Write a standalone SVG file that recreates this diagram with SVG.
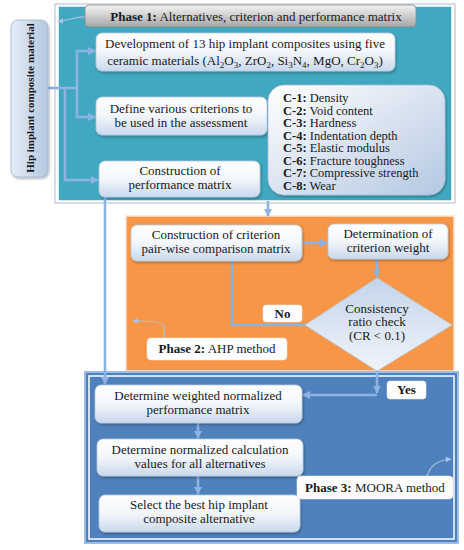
<svg xmlns="http://www.w3.org/2000/svg" width="464" height="550" viewBox="0 0 464 550" font-family="'Liberation Serif', 'DejaVu Serif', 'Times New Roman', serif">
<defs>
<linearGradient id="box" x1="0" y1="0" x2="0" y2="1">
<stop offset="0" stop-color="#ffffff"/><stop offset="0.5" stop-color="#f2f6fb"/><stop offset="1" stop-color="#c9d8ec"/>
</linearGradient>
<linearGradient id="crit" x1="0" y1="0" x2="1" y2="1">
<stop offset="0" stop-color="#ffffff"/><stop offset="1" stop-color="#b4c8e2"/>
</linearGradient>
<linearGradient id="side" x1="0" y1="0" x2="1" y2="0">
<stop offset="0" stop-color="#e6edf6"/><stop offset="1" stop-color="#b3c7e0"/>
</linearGradient>
<linearGradient id="title" x1="0" y1="0" x2="0" y2="1">
<stop offset="0" stop-color="#f4f4f4"/><stop offset="1" stop-color="#a6a6a6"/>
</linearGradient>
<linearGradient id="dia" x1="0" y1="0" x2="0" y2="1">
<stop offset="0" stop-color="#c3d4ea"/><stop offset="1" stop-color="#f0f4fa"/>
</linearGradient>
<filter id="sh" x="-10%" y="-10%" width="120%" height="130%">
<feDropShadow dx="1" dy="1.5" stdDeviation="1" flood-color="#000" flood-opacity="0.3"/>
</filter>
<marker id="ar" viewBox="0 0 10 10" refX="9" refY="5" markerWidth="3.2" markerHeight="3.2" orient="auto" markerUnits="strokeWidth">
<path d="M0,0 L10,5 L0,10 z" fill="#8db3e2"/>
</marker>
<marker id="ars" viewBox="0 0 10 10" refX="9" refY="5" markerWidth="5" markerHeight="5" orient="auto" markerUnits="strokeWidth">
<path d="M0,0 L10,5 L0,10 z" fill="#a9c4e4"/>
</marker>
</defs>
<style>
text{font-family:'Liberation Serif','DejaVu Serif','Times New Roman',serif;font-size:13px;fill:#1a1a1a;text-anchor:middle}
.b{font-weight:bold}
.l{text-anchor:start;font-size:12.5px}
.node{fill:url(#box);stroke:#b8c9df;stroke-width:0.8;filter:url(#sh)}
.lbl{fill:#ffffff;stroke:#e4e4e4;stroke-width:0.6}
.con{fill:none;stroke:#8db3e2;stroke-width:2.6;marker-end:url(#ar)}
.line{fill:none;stroke:#8db3e2;stroke-width:2.6}
.call{fill:none;stroke:#a9c4e4;stroke-width:1.2;marker-end:url(#ars)}
</style>

<!-- panels -->
<g id="phase1-panel">
<rect x="55" y="4" width="400" height="199" fill="none" stroke="#c9d3dc" stroke-width="1.5"/>
<rect x="58" y="6" width="394" height="195" fill="#40a8c0" stroke="#ffffff" stroke-width="1.5"/>
</g>
<g id="phase2-panel">
<rect x="126" y="216" width="328" height="155" fill="#f79646" stroke="#fde4d0" stroke-width="1.5"/>
</g>
<g id="phase3-panel">
<rect x="85" y="372" width="373" height="171" fill="#4f81bd" stroke="#9dbde6" stroke-width="2"/>
<rect x="89" y="376" width="365" height="163" fill="none" stroke="#ffffff" stroke-width="1.5"/>
</g>

<!-- connectors -->
<g id="connectors">
<path class="line" d="M48,88 H77"/>
<path class="con" d="M77,88 V51 H95"/>
<path class="con" d="M77,88 V117 H95"/>
<path class="con" d="M65,88 V180 H98"/>
<path class="con" d="M105,197 V384"/>
<path class="con" d="M268,201 V216"/>
<path class="con" d="M302,243 H327"/>
<path class="con" d="M377,259 V277"/>
<path class="line" d="M306,325 H232 V261"/>
<path class="con" d="M377,370 V393"/>
<path class="con" d="M377,395 H303"/>
<path class="con" d="M198,423 V438"/>
<path class="con" d="M198,476 V494"/>
<path class="call" d="M86,17 C75,16 70,21 58,21"/>
<path class="call" d="M164,338 V326 C164,322 150,321 133,321"/>
<path class="call" d="M427,476 C430,466 438,460 451,459"/>
</g>

<!-- nodes -->
<g id="hip-material">
<rect x="11" y="20" width="37" height="157" rx="7" fill="url(#side)" stroke="#9fb5d2" stroke-width="0.8" filter="url(#sh)"/>
<text class="b" transform="translate(34,98) rotate(-90)" style="font-size:11px">Hip implant composite material</text>
</g>
<g id="phase1-title">
<rect x="85" y="5" width="331" height="22" rx="4" fill="url(#title)" stroke="#8c8c8c" stroke-width="0.8"/>
<text x="256" y="21"><tspan class="b">Phase 1:</tspan> Alternatives, criterion and performance matrix</text>
</g>
<g id="development">
<rect class="node" x="96" y="33" width="299" height="38" rx="6"/>
<text x="245" y="48">Development of 13 hip implant composites using five</text>
<text x="245" y="65">ceramic materials (Al<tspan dy="3" font-size="9">2</tspan><tspan dy="-3">O</tspan><tspan dy="3" font-size="9">3</tspan><tspan dy="-3">, ZrO</tspan><tspan dy="3" font-size="9">2</tspan><tspan dy="-3">, Si</tspan><tspan dy="3" font-size="9">3</tspan><tspan dy="-3">N</tspan><tspan dy="3" font-size="9">4</tspan><tspan dy="-3">, MgO, Cr</tspan><tspan dy="3" font-size="9">2</tspan><tspan dy="-3">O</tspan><tspan dy="3" font-size="9">3</tspan><tspan dy="-3">)</tspan></text>
</g>
<g id="define-criteria">
<rect class="node" x="96" y="97" width="171" height="38" rx="6"/>
<text x="181" y="113">Define various criterions to</text>
<text x="181" y="127">be used in the assessment</text>
</g>
<g id="criteria-list">
<rect x="268" y="85" width="177" height="110" rx="16" fill="url(#crit)" stroke="#a9bedb" stroke-width="0.8" filter="url(#sh)"/>
<text class="l" x="283" y="102"><tspan class="b">C-1:</tspan> Density</text>
<text class="l" x="283" y="114.5"><tspan class="b">C-2:</tspan> Void content</text>
<text class="l" x="283" y="127"><tspan class="b">C-3:</tspan> Hardness</text>
<text class="l" x="283" y="139.5"><tspan class="b">C-4:</tspan> Indentation depth</text>
<text class="l" x="283" y="152"><tspan class="b">C-5:</tspan> Elastic modulus</text>
<text class="l" x="283" y="164.5"><tspan class="b">C-6:</tspan> Fracture toughness</text>
<text class="l" x="283" y="177"><tspan class="b">C-7:</tspan> Compressive strength</text>
<text class="l" x="283" y="189.5"><tspan class="b">C-8:</tspan> Wear</text>
</g>
<g id="performance-matrix">
<rect class="node" x="99" y="161" width="161" height="36" rx="6"/>
<text x="180" y="175">Construction of</text>
<text x="180" y="189">performance matrix</text>
</g>
<g id="pairwise">
<rect class="node" x="131" y="225" width="171" height="36" rx="6"/>
<text x="216" y="239">Construction of criterion</text>
<text x="216" y="252.5">pair-wise comparison matrix</text>
</g>
<g id="weight">
<rect class="node" x="328" y="224" width="120" height="35" rx="6"/>
<text x="388" y="238">Determination of</text>
<text x="388" y="251.5">criterion weight</text>
</g>
<g id="consistency">
<polygon points="377,278 452,325 377,371 305,325" fill="url(#dia)" stroke="#b8c9df" stroke-width="0.8"/>
<text x="377" y="312.5">Consistency</text>
<text x="377" y="326">ratio check</text>
<text x="377" y="339.5">(CR &lt; 0.1)</text>
</g>
<g id="no-label">
<rect class="lbl" x="263" y="305" width="39" height="17" rx="3"/>
<text class="b" x="282.5" y="318">No</text>
</g>
<g id="phase2-label">
<rect class="lbl" x="147" y="338" width="140" height="22" rx="4"/>
<text x="217" y="353"><tspan class="b">Phase 2:</tspan> AHP method</text>
</g>
<g id="yes-label">
<rect class="lbl" x="387" y="381" width="39" height="18" rx="3"/>
<text class="b" x="406.5" y="394">Yes</text>
</g>
<g id="weighted">
<rect class="node" x="95" y="385" width="207" height="38" rx="6"/>
<text x="198" y="400">Determine weighted normalized</text>
<text x="198" y="414">performance matrix</text>
</g>
<g id="normalized">
<rect class="node" x="97" y="439" width="206" height="37" rx="6"/>
<text x="200" y="454">Determine normalized calculation</text>
<text x="200" y="467.5">values for all alternatives</text>
</g>
<g id="select-best">
<rect class="node" x="99" y="495" width="201" height="37" rx="6"/>
<text x="199" y="509">Select the best hip implant</text>
<text x="199" y="522.5">composite alternative</text>
</g>
<g id="phase3-label">
<rect class="lbl" x="297" y="476" width="156" height="23" rx="4"/>
<text x="375" y="492"><tspan class="b">Phase 3:</tspan> MOORA method</text>
</g>
</svg>
